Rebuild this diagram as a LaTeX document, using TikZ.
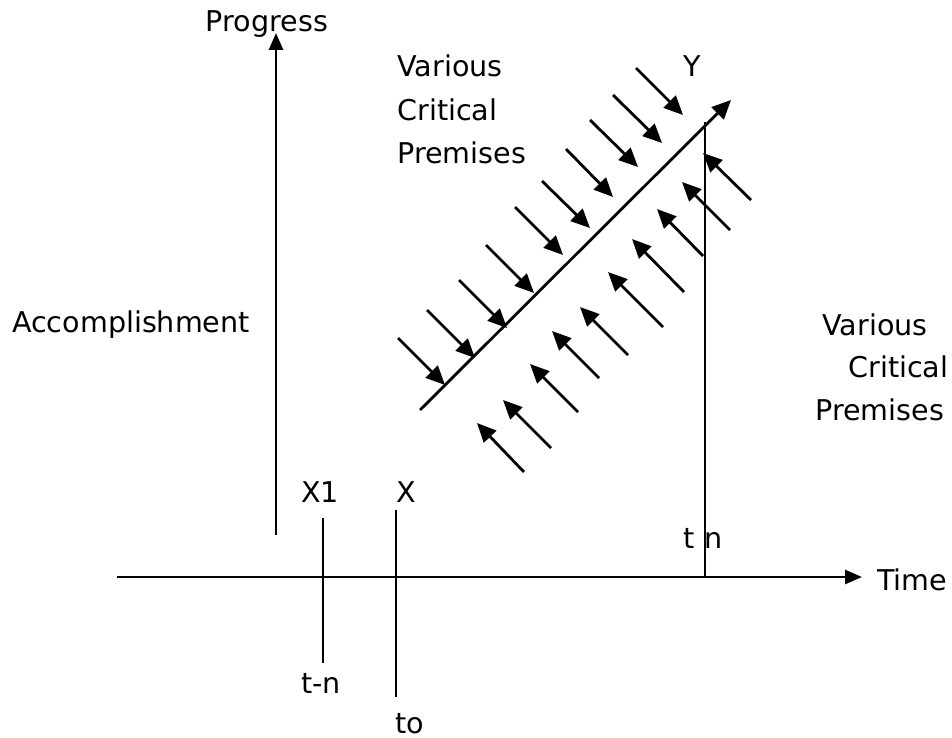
\documentclass[tikz,border=0pt]{standalone}
\usepackage{fontspec}
\setmainfont{DejaVu Sans}
\usetikzlibrary{arrows.meta}

\begin{document}
\begin{tikzpicture}[
    x=0.5pt, y=-0.5pt,
    lbl/.style={inner sep=0pt, font=\fontsize{14.3pt}{17pt}\selectfont},
    axis/.style={line width=1.3pt, -{Triangle[length=8.5pt,width=7pt]}},
    tick/.style={line width=1.1pt},
    premise/.style={line width=1.4pt, -{Triangle[length=9.5pt,width=8.5pt]}},
    >=Latex
  ]
    \useasboundingbox (0,0) rectangle (952,738);

    % axes
    \coordinate (pbot) at (276,535);
    \coordinate (ptop) at (276,33);
    \coordinate (tleft) at (117,577);
    \coordinate (tright) at (862,577);
    \draw[axis] (pbot) -- (ptop);
    \draw[axis] (tleft) -- (tright);

    \node[lbl] (progress) at (267,24) {Progress};
    \node[lbl] (accomp) at (131,325) {Accomplishment};
    \node[lbl] (time) at (912,580) {Time};

    % time markers
    \coordinate (xonetop) at (323,518);
    \coordinate (xonebot) at (323,663);
    \coordinate (xtop) at (396,510);
    \coordinate (xbot) at (396,697);
    \coordinate (tntop) at (705,122);
    \coordinate (tnbot) at (705,577);
    \draw[tick] (xonetop) -- (xonebot);
    \draw[tick] (xtop) -- (xbot);
    \draw[tick] (tnbot) -- (tntop);

    \node[lbl, anchor=base] (xone) at (320,502) {X1};
    \node[lbl, anchor=base] (xlbl) at (406,502) {X};
    \node[lbl, anchor=base] (tminus) at (321,693) {t-n};
    \node[lbl, anchor=base] (tzero) at (410,733) {to};
    \node[lbl, anchor=base] (tn) at (703,548) {t n};

    % path of progress
    \coordinate (pathstart) at (420,410);
    \coordinate (pathend) at (731,100);
    \draw[premise] (pathstart) -- (pathend);
    \node[lbl, anchor=base] (ylbl) at (692,77) {Y};

    % premises from above
    \foreach \sx/\sy/\ex/\ey in {398/338/445/385, 427/310/475/358, 459/280/507/328,
        486/245/534/293, 515/207/563/255, 542/181/590/228, 566/149/613/197,
        590/120/638/167, 613/95/662/143, 636/68/683/115}
      \draw[premise] (\sx,\sy) -- (\ex,\ey);

    % premises from below
    \foreach \sx/\sy/\ex/\ey in {524/472/477/423, 551/448/503/400, 578/412/530/364,
        599/378/552/331, 628/355/580/307, 663/327/608/272, 684/292/632/239,
        703/256/657/209, 730/230/682/182, 751/200/703/153}
      \draw[premise] (\sx,\sy) -- (\ex,\ey);

    \node[lbl, anchor=base west] (vcpa) at (397,77) {Various};
    \node[lbl, anchor=base west] (vcpb) at (397,120) {Critical};
    \node[lbl, anchor=base west] (vcpc) at (397,163) {Premises};

    \node[lbl, anchor=base west] (vcpd) at (822,335) {Various};
    \node[lbl, anchor=base west] (vcpe) at (848,377) {Critical};
    \node[lbl, anchor=base west] (vcpf) at (815,420) {Premises};
\end{tikzpicture}
\end{document}
